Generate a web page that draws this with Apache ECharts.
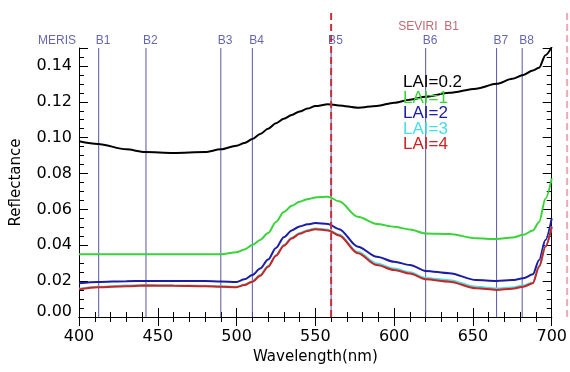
<!DOCTYPE html>
<html>
<head>
<meta charset="utf-8">
<script src="https://cdn.jsdelivr.net/npm/echarts@6/dist/echarts.min.js"></script>
<style>
  html, body { margin: 0; padding: 0; background: #fff; }
  #chart { width: 570px; height: 372px; }
</style>
</head>
<body>
<div id="chart"></div>
<script>
// Canopy reflectance spectra for several leaf area index values
const wavelengths = [400, 412, 430, 442, 460, 480, 490, 500, 505, 510, 515, 520, 525, 530, 535, 540, 545, 550, 558, 565, 577, 589, 600, 610, 620, 635, 652, 665, 675, 682, 688, 692, 696, 700];

const lai02 = [0.098, 0.0965, 0.0935, 0.092, 0.0915, 0.092, 0.0935, 0.0955, 0.097, 0.0992, 0.102, 0.105, 0.108, 0.1105, 0.1127, 0.1146, 0.1162, 0.1176, 0.1186, 0.118, 0.1167, 0.1177, 0.1195, 0.1212, 0.1228, 0.125, 0.1273, 0.130, 0.1328, 0.135, 0.1375, 0.139, 0.146, 0.1505];
const lai1 = [0.035, 0.035, 0.035, 0.035, 0.035, 0.035, 0.035, 0.0361, 0.0377, 0.0401, 0.043, 0.0468, 0.053, 0.0585, 0.062, 0.0643, 0.0657, 0.0666, 0.0671, 0.0645, 0.0559, 0.0519, 0.0503, 0.0488, 0.0466, 0.0463, 0.0439, 0.0435, 0.0443, 0.0458, 0.0482, 0.053, 0.066, 0.0773];
const lai2 = [0.0188, 0.0195, 0.020, 0.0201, 0.0201, 0.0201, 0.0198, 0.0195, 0.021, 0.0234, 0.027, 0.032, 0.0385, 0.0445, 0.0483, 0.0505, 0.0517, 0.0524, 0.0519, 0.049, 0.0392, 0.0336, 0.0308, 0.029, 0.0257, 0.0244, 0.0206, 0.0201, 0.0206, 0.0216, 0.0238, 0.0318, 0.043, 0.055];
const lai3 = [0.0157, 0.0169, 0.0175, 0.0178, 0.0177, 0.0174, 0.0172, 0.0169, 0.0181, 0.0200, 0.0234, 0.0284, 0.0345, 0.0402, 0.0442, 0.0468, 0.0484, 0.0494, 0.0487, 0.046, 0.0362, 0.0298, 0.027, 0.025, 0.0218, 0.0205, 0.0168, 0.0159, 0.0165, 0.0175, 0.0193, 0.0285, 0.0396, 0.0505];
const lai4 = [0.0154, 0.0166, 0.0172, 0.0175, 0.0174, 0.0171, 0.0169, 0.0166, 0.0178, 0.0197, 0.023, 0.028, 0.0341, 0.0398, 0.0438, 0.0464, 0.048, 0.049, 0.0483, 0.0455, 0.0355, 0.029, 0.0262, 0.0242, 0.021, 0.0197, 0.016, 0.0151, 0.0158, 0.0169, 0.0188, 0.028, 0.0392, 0.0503];

const seriesNames = ['LAI=0.2', 'LAI=1', 'LAI=2', 'LAI=3', 'LAI=4'];
const seriesValues = [lai02, lai1, lai2, lai3, lai4];
const seriesColors = ['#000000', '#38d438', '#1c1ca6', '#44dfe6', '#cc2424'];

// MERIS band centres (nm)
const merisBands = [412.5, 442.5, 490, 510, 560, 620, 665, 681.25];
const merisNames = ['B1', 'B2', 'B3', 'B4', 'B5', 'B6', 'B7', 'B8'];
// SEVIRI B1 band edges (nm)
const seviriEdges = [560, 707];

const xMin = 400, xMax = 700, yMin = 0, yMax = 0.15;
// wider hidden axis so the upper SEVIRI edge beyond 700 nm can be drawn
const xMaxWide = 708;

const plotLeft = 79, plotRight = 14, plotTop = 48, plotBottom = 55;
const pxPerNm = (570 - plotLeft - plotRight) / (xMax - xMin);
const wideRight = 570 - plotLeft - (xMaxWide - xMin) * pxPerNm;

const tickFont = { color: '#000', fontFamily: 'DejaVu Sans', fontSize: 16 };
const nameFont = { color: '#000', fontFamily: 'DejaVu Sans', fontSize: 15 };
const axisLine = { show: true, lineStyle: { color: '#000', width: 1 } };
const axisTick = { show: true, inside: true, length: 9, lineStyle: { color: '#000', width: 1 } };

function pairs(values) {
  return wavelengths.map((w, i) => [w, values[i]]);
}

const series = [];

// vertical MERIS band lines
merisBands.forEach((b) => {
  series.push({
    type: 'line', silent: true, symbol: 'none', z: 1,
    lineStyle: { color: '#5656a8', width: 1 },
    data: [[b, yMin], [b, yMax]]
  });
});

// spectra
seriesNames.forEach((name, k) => {
  series.push({
    name: name, type: 'line', symbol: 'none', z: 3,
    smooth: 0.3, smoothMonotone: 'x',
    lineStyle: { color: seriesColors[k], width: 2 },
    itemStyle: { color: seriesColors[k] },
    data: pairs(seriesValues[k])
  });
});

// SEVIRI band edges (dashed, extending above the frame)
series.push({
  type: 'line', silent: true, symbol: 'none', z: 5, clip: false,
  lineStyle: { color: '#c8303c', width: 2, type: [7, 4] },
  data: [[seviriEdges[0], yMin], [seviriEdges[0], 0.17]]
});
series.push({
  type: 'line', silent: true, symbol: 'none', z: 5, clip: false,
  xAxisIndex: 2, yAxisIndex: 2,
  lineStyle: { color: '#f0a8b3', width: 2, type: [7, 4] },
  data: [[seviriEdges[1], yMin], [seviriEdges[1], 0.17]]
});

// band captions above the frame
const bandLabelStyle = { fontFamily: 'Liberation Sans', fontSize: 12, color: '#40409a' };
series.push({
  type: 'scatter', silent: true, symbolSize: 0, clip: false, z: 6,
  label: { show: true, position: 'top', distance: 1, align: 'left', offset: [-3, 0], formatter: (p) => p.data.text, ...bandLabelStyle },
  data: merisBands.map((b, i) => ({ value: [b, yMax], text: merisNames[i] })).concat([
    { value: [xMin, yMax], text: 'MERIS', label: { align: 'right', offset: [-3, 0] } },
    { value: [604.5, yMax], text: 'SEVIRI  B1', label: { distance: 15, color: '#b0434f' } }
  ])
});

const hiddenAxis = { show: false, splitLine: { show: false } };

const option = {
  animation: false,
  backgroundColor: '#fff',
  grid: [
    { left: plotLeft, right: plotRight, top: plotTop, bottom: plotBottom },
    { left: plotLeft, right: wideRight, top: plotTop, bottom: plotBottom }
  ],
  legend: {
    orient: 'vertical', left: 398, top: 74, padding: 0,
    icon: 'none', itemWidth: 0, itemHeight: 10, itemGap: -1.5,
    selectedMode: false,
    textStyle: { fontFamily: 'Liberation Sans', fontSize: 17, lineHeight: 15.5 },
    data: seriesNames.map((n, k) => ({ name: n, textStyle: { color: seriesColors[k] } }))
  },
  xAxis: [
    {
      type: 'value', min: xMin, max: xMax, interval: 50, position: 'bottom',
      axisLine: axisLine, axisTick: axisTick,
      minorTick: { show: true, splitNumber: 5, length: 5, lineStyle: { color: '#000' } },
      splitLine: { show: false },
      axisLabel: { ...tickFont, margin: 12 },
      name: 'Wavelength(nm)', nameLocation: 'middle', nameGap: 33, nameTextStyle: nameFont
    },
    {
      type: 'value', min: xMin, max: xMax, interval: 50, position: 'top',
      axisLine: axisLine, axisTick: axisTick,
      minorTick: { show: true, splitNumber: 5, length: 5, lineStyle: { color: '#000' } },
      splitLine: { show: false }, axisLabel: { show: false }
    },
    { type: 'value', gridIndex: 1, min: xMin, max: xMaxWide, ...hiddenAxis }
  ],
  yAxis: [
    {
      type: 'value', min: yMin, max: yMax, interval: 0.02, position: 'left',
      axisLine: axisLine, axisTick: axisTick,
      minorTick: { show: true, splitNumber: 4, length: 5, lineStyle: { color: '#000' } },
      splitLine: { show: false },
      axisLabel: {
        ...tickFont, margin: 7, showMaxLabel: false,
        formatter: (v) => (v === 0 ? '{low|0.00}' : v.toFixed(2)),
        rich: { low: { ...tickFont, padding: [0, 0, 10, 0] } }
      },
      name: 'Reflectance', nameLocation: 'middle', nameGap: 55, nameRotate: 90, nameTextStyle: nameFont
    },
    {
      type: 'value', min: yMin, max: yMax, interval: 0.02, position: 'right',
      axisLine: axisLine, axisTick: axisTick,
      minorTick: { show: true, splitNumber: 4, length: 5, lineStyle: { color: '#000' } },
      splitLine: { show: false }, axisLabel: { show: false }
    },
    { type: 'value', gridIndex: 1, min: yMin, max: yMax, ...hiddenAxis }
  ],
  series: series
};

const chart = echarts.init(document.getElementById('chart'), null, { renderer: 'canvas' });
chart.setOption(option);
</script>
</body>
</html>
